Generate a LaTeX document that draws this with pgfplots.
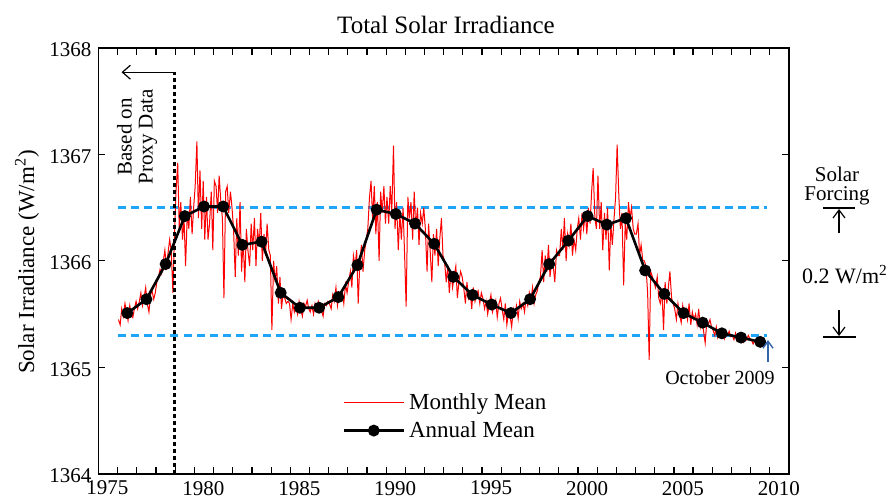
\documentclass[border=0pt]{standalone}
\usepackage{pgfplots}
\pgfplotsset{compat=1.18}
\usepackage{pgfplotstable}
\usepackage{fontspec}
\setmainfont{Liberation Serif}
\usetikzlibrary{arrows.meta}
\definecolor{dblue}{RGB}{30,165,250}
\definecolor{arrblue}{RGB}{50,100,170}

\pgfplotstableread[row sep=\\]{
t v \\
1976.04 1365.45 \\ 1976.13 1365.40 \\ 1976.21 1365.55 \\ 1976.29 1365.48 \\ 1976.38 1365.60 \\ 1976.46 1365.52 \\ 1976.54 1365.44 \\ 1976.63 1365.58 \\ 1976.71 1365.50 \\ 1976.79 1365.47 \\ 1976.88 1365.56 \\ 1976.96 1365.62 \\
1977.04 1365.55 \\ 1977.13 1365.62 \\ 1977.21 1365.70 \\ 1977.29 1365.58 \\ 1977.38 1365.66 \\ 1977.46 1365.75 \\ 1977.54 1365.60 \\ 1977.63 1365.52 \\ 1977.71 1365.68 \\ 1977.79 1365.72 \\ 1977.88 1365.64 \\ 1977.96 1365.70 \\
1978.04 1365.80 \\ 1978.13 1365.85 \\ 1978.21 1365.92 \\ 1978.29 1365.88 \\ 1978.38 1366.00 \\ 1978.46 1366.10 \\ 1978.54 1365.95 \\ 1978.63 1366.08 \\ 1978.71 1366.20 \\ 1978.79 1366.10 \\ 1978.88 1365.70 \\ 1978.96 1366.25 \\
1979.04 1366.65 \\ 1979.13 1366.92 \\ 1979.21 1366.30 \\ 1979.29 1366.55 \\ 1979.38 1366.20 \\ 1979.46 1366.40 \\ 1979.54 1365.95 \\ 1979.63 1366.45 \\ 1979.71 1366.30 \\ 1979.79 1366.60 \\ 1979.88 1366.25 \\ 1979.96 1366.50 \\
1980.04 1366.70 \\ 1980.13 1367.12 \\ 1980.21 1366.40 \\ 1980.29 1366.85 \\ 1980.38 1366.30 \\ 1980.46 1366.75 \\ 1980.54 1366.20 \\ 1980.63 1366.60 \\ 1980.71 1366.20 \\ 1980.79 1366.35 \\ 1980.88 1366.65 \\ 1980.96 1366.10 \\
1981.04 1366.75 \\ 1981.13 1366.70 \\ 1981.21 1366.45 \\ 1981.29 1366.80 \\ 1981.38 1366.55 \\ 1981.46 1366.40 \\ 1981.54 1365.65 \\ 1981.63 1366.65 \\ 1981.71 1366.70 \\ 1981.79 1366.45 \\ 1981.88 1366.65 \\ 1981.96 1366.50 \\
1982.04 1366.30 \\ 1982.13 1365.85 \\ 1982.21 1366.40 \\ 1982.29 1366.05 \\ 1982.38 1366.55 \\ 1982.46 1365.90 \\ 1982.54 1366.20 \\ 1982.63 1365.80 \\ 1982.71 1366.30 \\ 1982.79 1366.10 \\ 1982.88 1365.95 \\ 1982.96 1366.35 \\
1983.04 1366.10 \\ 1983.13 1366.40 \\ 1983.21 1365.95 \\ 1983.29 1366.30 \\ 1983.38 1366.15 \\ 1983.46 1366.45 \\ 1983.54 1366.00 \\ 1983.63 1366.25 \\ 1983.71 1366.05 \\ 1983.79 1366.35 \\ 1983.88 1366.10 \\ 1983.96 1366.05 \\
1984.04 1365.35 \\ 1984.13 1366.00 \\ 1984.21 1365.80 \\ 1984.29 1365.95 \\ 1984.38 1365.60 \\ 1984.46 1365.85 \\ 1984.54 1365.55 \\ 1984.63 1365.70 \\ 1984.71 1365.65 \\ 1984.79 1365.60 \\ 1984.88 1365.62 \\ 1984.96 1365.60 \\
1985.04 1365.45 \\ 1985.13 1365.60 \\ 1985.21 1365.52 \\ 1985.29 1365.58 \\ 1985.38 1365.50 \\ 1985.46 1365.62 \\ 1985.54 1365.55 \\ 1985.63 1365.48 \\ 1985.71 1365.60 \\ 1985.79 1365.57 \\ 1985.88 1365.63 \\ 1985.96 1365.55 \\
1986.04 1365.52 \\ 1986.13 1365.58 \\ 1986.21 1365.50 \\ 1986.29 1365.60 \\ 1986.38 1365.55 \\ 1986.46 1365.62 \\ 1986.54 1365.57 \\ 1986.63 1365.53 \\ 1986.71 1365.48 \\ 1986.79 1365.60 \\ 1986.88 1365.58 \\ 1986.96 1365.62 \\
1987.04 1365.60 \\ 1987.13 1365.55 \\ 1987.21 1365.68 \\ 1987.29 1365.62 \\ 1987.38 1365.75 \\ 1987.46 1365.58 \\ 1987.54 1365.70 \\ 1987.63 1365.65 \\ 1987.71 1365.72 \\ 1987.79 1365.60 \\ 1987.88 1365.78 \\ 1987.96 1365.70 \\
1988.04 1365.80 \\ 1988.13 1365.90 \\ 1988.21 1365.75 \\ 1988.29 1366.05 \\ 1988.38 1365.95 \\ 1988.46 1366.10 \\ 1988.54 1365.60 \\ 1988.63 1366.00 \\ 1988.71 1366.15 \\ 1988.79 1365.90 \\ 1988.88 1366.10 \\ 1988.96 1366.20 \\
1989.04 1366.30 \\ 1989.13 1366.60 \\ 1989.21 1366.75 \\ 1989.29 1366.40 \\ 1989.38 1366.70 \\ 1989.46 1366.25 \\ 1989.54 1366.55 \\ 1989.63 1366.00 \\ 1989.71 1366.65 \\ 1989.79 1366.45 \\ 1989.88 1366.70 \\ 1989.96 1366.35 \\
1990.04 1366.60 \\ 1990.13 1366.35 \\ 1990.21 1366.70 \\ 1990.29 1366.45 \\ 1990.38 1367.08 \\ 1990.46 1366.30 \\ 1990.54 1366.55 \\ 1990.63 1366.10 \\ 1990.71 1366.45 \\ 1990.79 1366.20 \\ 1990.88 1366.50 \\ 1990.96 1366.05 \\
1991.04 1365.57 \\ 1991.13 1366.60 \\ 1991.21 1366.40 \\ 1991.29 1366.55 \\ 1991.38 1366.20 \\ 1991.46 1366.65 \\ 1991.54 1366.30 \\ 1991.63 1366.50 \\ 1991.71 1366.15 \\ 1991.79 1366.45 \\ 1991.88 1366.35 \\ 1991.96 1366.50 \\
1992.04 1366.30 \\ 1992.13 1365.90 \\ 1992.21 1366.35 \\ 1992.29 1366.10 \\ 1992.38 1365.80 \\ 1992.46 1366.25 \\ 1992.54 1366.05 \\ 1992.63 1366.30 \\ 1992.71 1365.95 \\ 1992.79 1366.20 \\ 1992.88 1366.40 \\ 1992.96 1366.05 \\
1993.04 1366.00 \\ 1993.13 1365.80 \\ 1993.21 1365.95 \\ 1993.29 1365.70 \\ 1993.38 1365.90 \\ 1993.46 1365.75 \\ 1993.54 1365.85 \\ 1993.63 1365.95 \\ 1993.71 1365.65 \\ 1993.79 1365.80 \\ 1993.88 1365.90 \\ 1993.96 1365.85 \\
1994.04 1365.75 \\ 1994.13 1365.60 \\ 1994.21 1365.80 \\ 1994.29 1365.65 \\ 1994.38 1365.70 \\ 1994.46 1365.55 \\ 1994.54 1365.75 \\ 1994.63 1365.62 \\ 1994.71 1365.68 \\ 1994.79 1365.72 \\ 1994.88 1365.60 \\ 1994.96 1365.70 \\
1995.04 1365.65 \\ 1995.13 1365.55 \\ 1995.21 1365.62 \\ 1995.29 1365.50 \\ 1995.38 1365.60 \\ 1995.46 1365.68 \\ 1995.54 1365.52 \\ 1995.63 1365.58 \\ 1995.71 1365.63 \\ 1995.79 1365.47 \\ 1995.88 1365.60 \\ 1995.96 1365.65 \\
1996.04 1365.55 \\ 1996.13 1365.45 \\ 1996.21 1365.60 \\ 1996.29 1365.40 \\ 1996.38 1365.52 \\ 1996.46 1365.48 \\ 1996.54 1365.38 \\ 1996.63 1365.55 \\ 1996.71 1365.50 \\ 1996.79 1365.58 \\ 1996.88 1365.46 \\ 1996.96 1365.62 \\
1997.04 1365.55 \\ 1997.13 1365.60 \\ 1997.21 1365.52 \\ 1997.29 1365.65 \\ 1997.38 1365.58 \\ 1997.46 1365.70 \\ 1997.54 1365.62 \\ 1997.63 1365.75 \\ 1997.71 1365.60 \\ 1997.79 1365.68 \\ 1997.88 1365.72 \\ 1997.96 1365.80 \\
1998.04 1365.85 \\ 1998.13 1366.10 \\ 1998.21 1365.80 \\ 1998.29 1366.05 \\ 1998.38 1365.90 \\ 1998.46 1366.15 \\ 1998.54 1365.85 \\ 1998.63 1366.00 \\ 1998.71 1365.95 \\ 1998.79 1365.80 \\ 1998.88 1366.10 \\ 1998.96 1366.05 \\
1999.04 1366.05 \\ 1999.13 1366.30 \\ 1999.21 1366.10 \\ 1999.29 1366.40 \\ 1999.38 1366.00 \\ 1999.46 1366.25 \\ 1999.54 1366.15 \\ 1999.63 1366.35 \\ 1999.71 1366.05 \\ 1999.79 1366.20 \\ 1999.88 1366.10 \\ 1999.96 1366.30 \\
2000.04 1366.40 \\ 2000.13 1366.20 \\ 2000.21 1366.45 \\ 2000.29 1366.30 \\ 2000.38 1366.45 \\ 2000.46 1366.25 \\ 2000.54 1366.50 \\ 2000.63 1366.35 \\ 2000.71 1366.65 \\ 2000.79 1366.87 \\ 2000.88 1366.40 \\ 2000.96 1366.30 \\
2001.04 1366.80 \\ 2001.13 1366.30 \\ 2001.21 1366.55 \\ 2001.29 1366.10 \\ 2001.38 1366.45 \\ 2001.46 1366.20 \\ 2001.54 1366.50 \\ 2001.63 1365.91 \\ 2001.71 1366.35 \\ 2001.79 1366.15 \\ 2001.88 1366.40 \\ 2001.96 1366.60 \\
2002.04 1367.09 \\ 2002.13 1366.60 \\ 2002.21 1366.30 \\ 2002.29 1366.45 \\ 2002.38 1365.77 \\ 2002.46 1366.35 \\ 2002.54 1366.20 \\ 2002.63 1366.55 \\ 2002.71 1366.40 \\ 2002.79 1366.50 \\ 2002.88 1366.30 \\ 2002.96 1366.25 \\
2003.04 1366.25 \\ 2003.13 1366.35 \\ 2003.21 1366.05 \\ 2003.29 1366.15 \\ 2003.38 1366.00 \\ 2003.46 1366.00 \\ 2003.54 1365.95 \\ 2003.63 1365.70 \\ 2003.71 1365.07 \\ 2003.79 1365.90 \\ 2003.88 1365.85 \\ 2003.96 1365.80 \\
2004.04 1365.75 \\ 2004.13 1365.85 \\ 2004.21 1365.65 \\ 2004.29 1365.60 \\ 2004.38 1365.70 \\ 2004.46 1365.35 \\ 2004.54 1365.80 \\ 2004.63 1365.60 \\ 2004.71 1365.75 \\ 2004.79 1365.90 \\ 2004.88 1365.65 \\ 2004.96 1365.60 \\
2005.04 1365.55 \\ 2005.13 1365.45 \\ 2005.21 1365.60 \\ 2005.29 1365.50 \\ 2005.38 1365.42 \\ 2005.46 1365.58 \\ 2005.54 1365.48 \\ 2005.63 1365.55 \\ 2005.71 1365.45 \\ 2005.79 1365.60 \\ 2005.88 1365.40 \\ 2005.96 1365.52 \\
2006.04 1365.45 \\ 2006.13 1365.50 \\ 2006.21 1365.40 \\ 2006.29 1365.55 \\ 2006.38 1365.38 \\ 2006.46 1365.45 \\ 2006.54 1365.35 \\ 2006.63 1365.23 \\ 2006.71 1365.42 \\ 2006.79 1365.40 \\ 2006.88 1365.45 \\ 2006.96 1365.38 \\
2007.04 1365.35 \\ 2007.13 1365.30 \\ 2007.21 1365.38 \\ 2007.29 1365.28 \\ 2007.38 1365.33 \\ 2007.46 1365.30 \\ 2007.54 1365.35 \\ 2007.63 1365.27 \\ 2007.71 1365.32 \\ 2007.79 1365.30 \\ 2007.88 1365.34 \\ 2007.96 1365.29 \\
2008.04 1365.30 \\ 2008.13 1365.26 \\ 2008.21 1365.32 \\ 2008.29 1365.25 \\ 2008.38 1365.29 \\ 2008.46 1365.27 \\ 2008.54 1365.30 \\ 2008.63 1365.24 \\ 2008.71 1365.28 \\ 2008.79 1365.26 \\ 2008.88 1365.30 \\ 2008.96 1365.27 \\
2009.04 1365.26 \\ 2009.13 1365.22 \\ 2009.21 1365.25 \\ 2009.29 1365.23 \\ 2009.38 1365.27 \\ 2009.46 1365.24 \\ 2009.54 1365.21 \\ 2009.63 1365.25 \\ 2009.71 1365.23 \\ 2009.79 1365.24 \\
}\monthly

\begin{document}
\begin{tikzpicture}
\useasboundingbox (0pt,0pt) rectangle (444pt,250pt);
\begin{axis}[
  at={(49.25pt,13pt)}, anchor=south west,
  scale only axis, width=345.25pt, height=213.15pt,
  xmin=1975, xmax=2011, ymin=1364, ymax=1368,
  xtick={1975,1980,...,2010}, minor xtick={1976,...,2009},
  ytick={1364,1365,...,1368},
  tick align=inside,
  major tick length=3.5pt, minor tick length=3.5pt,
  every tick/.style={black, line width=0.6pt},
  axis line style={line width=0.8pt},
  /pgf/number format/set thousands separator={},
  /pgf/number format/assume math mode=true,
  ticklabel style={font=\fontsize{10.5}{12}\selectfont},
  xticklabel style={xshift=4.5pt},
  yticklabel style={yshift=-1pt},
  clip=false,
  legend style={at={(axis cs:1987.7,1364.80)}, anchor=north west, draw=none, fill=none,
    font=\fontsize{11.5}{13}\selectfont, inner sep=0pt, row sep=0.5pt},
  legend cell align=left,
  legend image code/.code={\draw[mark repeat=2,mark phase=2,#1] plot coordinates {(0pt,0pt) (15pt,0pt) (30pt,0pt)};},
]
\addplot[dblue, line width=1.2pt, dash pattern=on 4pt off 2.6pt, forget plot] coordinates {(1976,1366.5) (2009.85,1366.5)};
\addplot[dblue, line width=1.2pt, dash pattern=on 4pt off 2.6pt, forget plot] coordinates {(1976,1365.3) (2009.85,1365.3)};
\addplot[red, line width=0.5pt] table[x=t, y=v] {\monthly};
\addlegendentry{Monthly Mean}
\addplot[black, line width=1.3pt, mark=*, mark size=2.3pt] coordinates {
(1976.5,1365.51)(1977.5,1365.64)(1978.5,1365.97)(1979.5,1366.42)(1980.5,1366.51)(1981.5,1366.51)
(1982.5,1366.15)(1983.5,1366.18)(1984.5,1365.70)(1985.5,1365.56)(1986.5,1365.56)(1987.5,1365.66)
(1988.5,1365.96)(1989.5,1366.48)(1990.5,1366.44)(1991.5,1366.35)(1992.5,1366.16)(1993.5,1365.85)
(1994.5,1365.68)(1995.5,1365.59)(1996.5,1365.51)(1997.5,1365.64)(1998.5,1365.97)(1999.5,1366.19)
(2000.5,1366.42)(2001.5,1366.34)(2002.5,1366.40)(2003.5,1365.91)(2004.5,1365.69)(2005.5,1365.51)
(2006.5,1365.42)(2007.5,1365.32)(2008.5,1365.28)(2009.5,1365.24)};
\addlegendentry{Annual Mean}
\draw[black, line width=1.3pt, dash pattern=on 2pt off 1.5pt] (axis cs:1978.95,1364) -- (axis cs:1978.95,1367.77);
\draw[black, line width=0.6pt, -{Straight Barb[length=4pt,width=7pt]}] (axis cs:1978.95,1367.77) -- (axis cs:1976.2,1367.77);
\end{axis}
\node[anchor=base, font=\fontsize{12.5}{14}\selectfont] at (223pt,233.5pt) {Total Solar Irradiance};
\node[rotate=90, font=\fontsize{11.5}{13}\selectfont] at (13.5pt,119pt) {Solar Irradiance (W/m\textsuperscript{2})};
\node[rotate=90, align=center, font=\fontsize{10.5}{10.5}\selectfont] at (68.5pt,181.5pt) {Based on\\Proxy Data};
\node[anchor=base, font=\fontsize{10.5}{12}\selectfont, inner sep=1pt] at (418.5pt,159.5pt) {Solar};
\node[anchor=base, font=\fontsize{10.5}{12}\selectfont, inner sep=1pt] at (418.5pt,150pt) {Forcing};
\draw[line width=0.6pt] (411.5pt,146pt) -- (427.5pt,146pt);
\draw[line width=0.6pt, -{Straight Barb[length=4pt,width=6pt]}] (419.5pt,133.5pt) -- (419.5pt,145.5pt);
\node[anchor=base, font=\fontsize{11}{12}\selectfont] at (422.5pt,108.5pt) {0.2 W/m\textsuperscript{2}};
\draw[line width=0.6pt, -{Straight Barb[length=4pt,width=6pt]}] (419.5pt,95pt) -- (419.5pt,82pt);
\draw[line width=0.6pt] (411.5pt,81.5pt) -- (428pt,81.5pt);
\node[anchor=base, font=\fontsize{10}{12}\selectfont] at (360pt,58pt) {October 2009};
\draw[arrblue, line width=0.7pt, -{Straight Barb[length=3.5pt,width=5pt]}] (384pt,69pt) -- (384pt,80pt);
\end{tikzpicture}
\end{document}
